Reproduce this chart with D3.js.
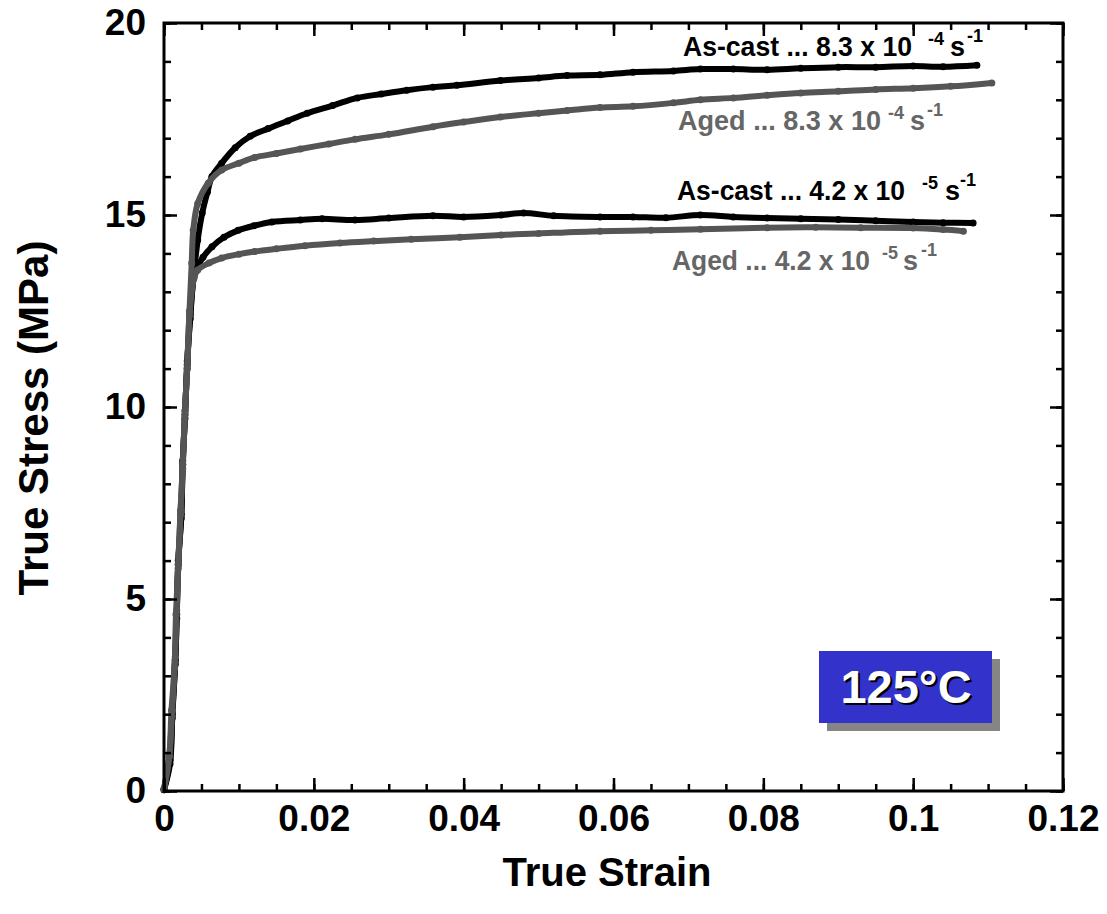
<!DOCTYPE html>
<html>
<head>
<meta charset="utf-8">
<script src="https://cdn.jsdelivr.net/npm/d3@7"></script>
<style>
  body { margin: 0; background: #fff; }
  svg { display: block; font-family: "Liberation Sans", Arial, sans-serif; font-weight: bold; }
</style>
</head>
<body>
<svg id="chart" width="1107" height="914"></svg>
<script>
// values (strain, MPa)
const asCast83Strain = [0, 0.0008, 0.0011, 0.0015, 0.0017, 0.0019, 0.0023, 0.0025, 0.0028, 0.0031, 0.0035, 0.0040, 0.0045, 0.0051, 0.0058, 0.0064, 0.0077, 0.0095, 0.0115, 0.0139, 0.0165, 0.0191, 0.0225, 0.0258, 0.0290, 0.0324, 0.0359, 0.0391, 0.0449, 0.0500, 0.0538, 0.0582, 0.0626, 0.0680, 0.0716, 0.0760, 0.0805, 0.0850, 0.0900, 0.0950, 0.1000, 0.1040, 0.1085]
const asCast83Stress = [0.03, 0.8, 2.0, 3.3, 4.6, 5.9, 7.2, 8.5, 9.8, 11.1, 12.4, 13.5, 14.35, 15.05, 15.6, 16.0, 16.35, 16.75, 17.05, 17.25, 17.45, 17.65, 17.85, 18.05, 18.15, 18.25, 18.33, 18.38, 18.5, 18.57, 18.63, 18.65, 18.72, 18.75, 18.8, 18.8, 18.78, 18.82, 18.85, 18.85, 18.88, 18.86, 18.9]

const aged83Strain = [0, 0.0007, 0.0011, 0.0014, 0.0017, 0.0019, 0.0022, 0.0025, 0.0028, 0.0031, 0.0034, 0.0037, 0.0039, 0.0045, 0.0059, 0.0077, 0.0100, 0.0121, 0.0150, 0.0182, 0.0220, 0.0255, 0.0300, 0.0359, 0.0400, 0.0449, 0.0500, 0.0538, 0.0582, 0.0626, 0.0680, 0.0716, 0.0760, 0.0805, 0.0850, 0.0900, 0.0950, 0.1000, 0.1050, 0.1105]
const aged83Stress = [0.05, 0.9, 2.1, 3.2, 4.7, 5.8, 7.3, 8.4, 9.9, 11.0, 12.5, 13.75, 14.6, 15.3, 15.83, 16.17, 16.35, 16.5, 16.6, 16.72, 16.85, 16.97, 17.1, 17.3, 17.42, 17.55, 17.65, 17.72, 17.8, 17.83, 17.92, 18.0, 18.05, 18.12, 18.18, 18.22, 18.27, 18.3, 18.35, 18.44]

const asCast42Strain = [0, 0.0008, 0.0011, 0.0015, 0.0017, 0.0019, 0.0023, 0.0025, 0.0028, 0.0031, 0.0035, 0.0040, 0.0045, 0.0052, 0.0064, 0.0080, 0.0099, 0.0120, 0.0144, 0.0182, 0.0211, 0.0255, 0.0300, 0.0359, 0.0400, 0.0450, 0.0480, 0.0520, 0.0582, 0.0626, 0.0670, 0.0716, 0.0760, 0.0805, 0.0850, 0.0900, 0.0950, 0.1000, 0.1040, 0.1080]
const asCast42Stress = [0.03, 0.7, 1.9, 3.4, 4.5, 6.0, 7.1, 8.6, 9.7, 11.2, 12.3, 13.4, 13.65, 13.9, 14.17, 14.42, 14.6, 14.72, 14.82, 14.87, 14.9, 14.87, 14.92, 14.98, 14.95, 15.0, 15.05, 14.98, 14.95, 14.95, 14.93, 15.0, 14.95, 14.92, 14.9, 14.88, 14.85, 14.82, 14.8, 14.79]

const aged42Strain = [0, 0.0007, 0.0010, 0.0014, 0.0016, 0.0019, 0.0022, 0.0025, 0.0028, 0.0031, 0.0034, 0.0040, 0.0045, 0.0060, 0.0077, 0.0100, 0.0121, 0.0150, 0.0188, 0.0235, 0.0280, 0.0330, 0.0395, 0.0450, 0.0500, 0.0582, 0.0650, 0.0716, 0.0805, 0.0870, 0.0930, 0.1000, 0.1040, 0.1067]
const aged42Stress = [0.05, 0.9, 2.1, 3.2, 4.6, 5.9, 7.2, 8.5, 9.9, 11.0, 12.4, 13.35, 13.57, 13.75, 13.88, 13.98, 14.05, 14.12, 14.2, 14.27, 14.32, 14.37, 14.42, 14.48, 14.52, 14.58, 14.6, 14.63, 14.67, 14.68, 14.67, 14.66, 14.62, 14.58]

const xTicks = [0, 0.02, 0.04, 0.06, 0.08, 0.1, 0.12]
const xTickLabels = ["0", "0.02", "0.04", "0.06", "0.08", "0.1", "0.12"]
const yTicks = [0, 5, 10, 15, 20]

const black = "#000"
const gray = "#555"
const grayText = "#666"

const svg = d3.select("#chart")
const plot = { left: 164, right: 1063, top: 23, bottom: 791 }

const x = d3.scaleLinear().domain([0, 0.12]).range([plot.left, plot.right])
const y = d3.scaleLinear().domain([0, 20]).range([plot.bottom, plot.top])

// curves (drawn first so the frame sits on top)
const curves = [
  { strain: asCast83Strain, stress: asCast83Stress, color: black },
  { strain: asCast42Strain, stress: asCast42Stress, color: black },
  { strain: aged83Strain, stress: aged83Stress, color: gray },
  { strain: aged42Strain, stress: aged42Stress, color: gray }
]

const line = d3.line()
  .x(d => x(d[0]))
  .y(d => y(d[1]))
  .curve(d3.curveCatmullRom)

curves.forEach(c => {
  const pts = c.strain.map((s, i) => [s, c.stress[i]])
  svg.append("path")
    .datum(pts)
    .attr("d", line)
    .attr("fill", "none")
    .attr("stroke", c.color)
    .attr("stroke-width", 6)
    .attr("stroke-linejoin", "round")
    .attr("stroke-linecap", "round")
  svg.append("g").selectAll("circle")
    .data(pts)
    .join("circle")
    .attr("cx", d => x(d[0]))
    .attr("cy", d => y(d[1]))
    .attr("r", 3.5)
    .attr("fill", c.color)
})

// axes, ticks inward on all four sides
const minorX = d3.range(0, 0.1201, 0.005)
const minorY = d3.range(0, 20.01, 1)

svg.append("g").attr("transform", `translate(0,${plot.bottom})`)
  .call(d3.axisBottom(x).tickValues(minorX).tickSize(-7).tickFormat(""))
svg.append("g").attr("transform", `translate(0,${plot.bottom})`)
  .call(d3.axisBottom(x).tickValues(xTicks).tickSize(-13).tickFormat((d, i) => xTickLabels[i]).tickPadding(14))
svg.append("g").attr("transform", `translate(0,${plot.top})`)
  .call(d3.axisTop(x).tickValues(minorX).tickSize(-7).tickFormat(""))
svg.append("g").attr("transform", `translate(0,${plot.top})`)
  .call(d3.axisTop(x).tickValues(xTicks).tickSize(-13).tickFormat(""))

svg.append("g").attr("transform", `translate(${plot.left},0)`)
  .call(d3.axisLeft(y).tickValues(minorY).tickSize(-7).tickFormat(""))
svg.append("g").attr("transform", `translate(${plot.left},0)`)
  .call(d3.axisLeft(y).tickValues(yTicks).tickSize(-13).tickFormat(d3.format("d")).tickPadding(18))
svg.append("g").attr("transform", `translate(${plot.right},0)`)
  .call(d3.axisRight(y).tickValues(minorY).tickSize(-7).tickFormat(""))
svg.append("g").attr("transform", `translate(${plot.right},0)`)
  .call(d3.axisRight(y).tickValues(yTicks).tickSize(-13).tickFormat(""))

svg.selectAll(".domain").remove()
svg.selectAll(".tick line").attr("stroke", "#000").attr("stroke-width", 2.5)
svg.selectAll(".tick text")
  .attr("fill", "#000")
  .style("font-size", "37px")
  .style("font-weight", "bold")
  .style("font-family", "'Liberation Sans', Arial, sans-serif")

svg.append("rect")
  .attr("x", plot.left).attr("y", plot.top)
  .attr("width", plot.right - plot.left).attr("height", plot.bottom - plot.top)
  .attr("fill", "none").attr("stroke", "#000").attr("stroke-width", 3)

// axis titles
svg.append("text")
  .attr("x", 607).attr("y", 886)
  .attr("text-anchor", "middle")
  .style("font-size", "40px")
  .text("True Strain")

svg.append("text")
  .attr("transform", "translate(48,418) rotate(-90)")
  .attr("text-anchor", "middle")
  .style("font-size", "42px")
  .text("True Stress (MPa)")

// curve labels: main text, exponent, unit
const labels = [
  { text: "As-cast ... 8.3 x 10", exp: "-4", x: 683, y: 56, endX: 912, expX: 928, sX: 950, invX: 967, color: black },
  { text: "Aged ... 8.3 x 10", exp: "-4", x: 678, y: 130, endX: 881, expX: 888, sX: 910, invX: 927, color: grayText },
  { text: "As-cast ... 4.2 x 10", exp: "-5", x: 677, y: 200, endX: 905, expX: 922, sX: 945, invX: 960, color: black },
  { text: "Aged ... 4.2 x 10", exp: "-5", x: 672, y: 270, endX: 870, expX: 882, sX: 903, invX: 921, color: grayText }
]

labels.forEach(l => {
  const g = svg.append("g").attr("fill", l.color)
  g.append("text")
    .attr("x", l.x).attr("y", l.y)
    .attr("textLength", l.endX - l.x)
    .attr("lengthAdjust", "spacingAndGlyphs")
    .style("font-size", "27px")
    .text(l.text)
  g.append("text").attr("x", l.expX).attr("y", l.y - 11).style("font-size", "18px").text(l.exp)
  g.append("text").attr("x", l.sX).attr("y", l.y).style("font-size", "27px").text("s")
  g.append("text").attr("x", l.invX).attr("y", l.y - 14).style("font-size", "18px").text("-1")
})

// temperature badge
svg.append("rect")
  .attr("x", 827).attr("y", 659).attr("width", 173).attr("height", 72)
  .attr("fill", "#858585")
svg.append("rect")
  .attr("x", 819).attr("y", 651).attr("width", 173).attr("height", 72)
  .attr("fill", "#3333cc")
svg.append("text")
  .attr("x", 908).attr("y", 705)
  .attr("text-anchor", "middle")
  .attr("fill", "#000")
  .style("font-size", "47px")
  .text("125°C")
svg.append("text")
  .attr("x", 906).attr("y", 703)
  .attr("text-anchor", "middle")
  .attr("fill", "#fff")
  .style("font-size", "47px")
  .text("125°C")
</script>
</body>
</html>
